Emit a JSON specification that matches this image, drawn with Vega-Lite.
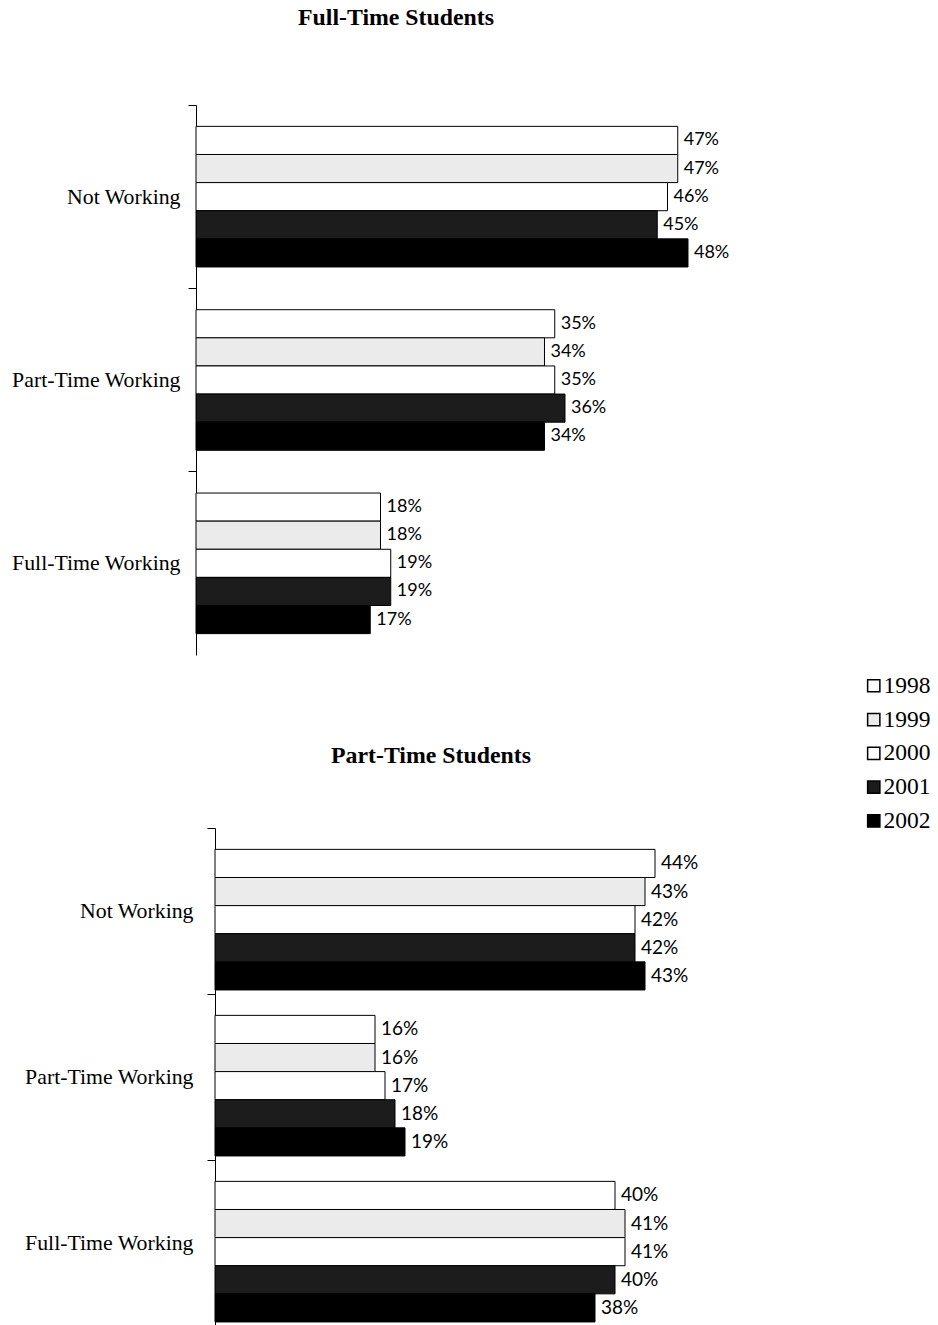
{
  "$schema": "https://vega.github.io/schema/vega-lite/v6.json",
  "background": "white",
  "padding": {"left": 11, "top": 5, "right": 5, "bottom": 0},
  "config": {
    "view": {"stroke": null},
    "font": "Liberation Serif",
    "axis": {"domainColor": "black", "tickColor": "black", "labelColor": "black"}
  },
  "datasets": {
    "fulltime": [
      {"status": "Not Working", "year": "1998", "pct": 0.47},
      {"status": "Not Working", "year": "1999", "pct": 0.47},
      {"status": "Not Working", "year": "2000", "pct": 0.46},
      {"status": "Not Working", "year": "2001", "pct": 0.45},
      {"status": "Not Working", "year": "2002", "pct": 0.48},
      {"status": "Part-Time Working", "year": "1998", "pct": 0.35},
      {"status": "Part-Time Working", "year": "1999", "pct": 0.34},
      {"status": "Part-Time Working", "year": "2000", "pct": 0.35},
      {"status": "Part-Time Working", "year": "2001", "pct": 0.36},
      {"status": "Part-Time Working", "year": "2002", "pct": 0.34},
      {"status": "Full-Time Working", "year": "1998", "pct": 0.18},
      {"status": "Full-Time Working", "year": "1999", "pct": 0.18},
      {"status": "Full-Time Working", "year": "2000", "pct": 0.19},
      {"status": "Full-Time Working", "year": "2001", "pct": 0.19},
      {"status": "Full-Time Working", "year": "2002", "pct": 0.17}
    ],
    "parttime": [
      {"status": "Not Working", "year": "1998", "pct": 0.44},
      {"status": "Not Working", "year": "1999", "pct": 0.43},
      {"status": "Not Working", "year": "2000", "pct": 0.42},
      {"status": "Not Working", "year": "2001", "pct": 0.42},
      {"status": "Not Working", "year": "2002", "pct": 0.43},
      {"status": "Part-Time Working", "year": "1998", "pct": 0.16},
      {"status": "Part-Time Working", "year": "1999", "pct": 0.16},
      {"status": "Part-Time Working", "year": "2000", "pct": 0.17},
      {"status": "Part-Time Working", "year": "2001", "pct": 0.18},
      {"status": "Part-Time Working", "year": "2002", "pct": 0.19},
      {"status": "Full-Time Working", "year": "1998", "pct": 0.40},
      {"status": "Full-Time Working", "year": "1999", "pct": 0.41},
      {"status": "Full-Time Working", "year": "2000", "pct": 0.41},
      {"status": "Full-Time Working", "year": "2001", "pct": 0.40},
      {"status": "Full-Time Working", "year": "2002", "pct": 0.38}
    ]
  },
  "spacing": 88,
  "vconcat": [
    {
      "title": {"text": "Full-Time Students", "font": "Liberation Serif", "fontSize": 23.8, "fontWeight": "bold", "color": "black", "anchor": "middle", "frame": "group", "dx": -116, "offset": 75},
      "width": 632,
      "height": 550,
      "data": {"name": "fulltime"},
      "encoding": {
        "y": {
          "field": "status", "type": "nominal",
          "sort": ["Not Working", "Part-Time Working", "Full-Time Working"],
          "scale": {"paddingInner": 0, "paddingOuter": 0},
          "axis": {"title": null, "bandPosition": 0, "tickSize": 8, "labelPadding": 8, "labelFontSize": 21.8, "labelFont": "Liberation Serif", "domainWidth": 1, "tickWidth": 1}
        },
        "yOffset": {"field": "year", "type": "nominal", "scale": {"paddingInner": 0, "paddingOuter": 0.76}},
        "x": {"field": "pct", "type": "quantitative", "scale": {"domain": [0, 0.6166]}, "axis": null}
      },
      "layer": [
        {
          "mark": {"type": "bar", "stroke": "black", "strokeWidth": 1},
          "encoding": {
            "color": {
              "field": "year", "type": "nominal",
              "scale": {"domain": ["1998", "1999", "2000", "2001", "2002"], "range": ["#ffffff", "#ebebeb", "#ffffff", "#1c1c1c", "#000000"]},
              "legend": {"title": null, "orient": "none", "legendX": 666, "legendY": 569, "symbolType": "square", "symbolSize": 150, "symbolStrokeColor": "black", "symbolStrokeWidth": 1.5, "symbolOpacity": 1, "labelFont": "Liberation Serif", "labelFontSize": 23.5, "labelColor": "black", "labelOffset": -2, "rowPadding": 8.8}
            }
          }
        },
        {
          "mark": {"type": "text", "align": "left", "baseline": "middle", "dx": 6, "font": "Lato", "fontSize": 18, "color": "black"},
          "encoding": {"text": {"field": "pct", "type": "quantitative", "format": ".0%"}}
        }
      ]
    },
    {
      "title": {"text": "Part-Time Students", "font": "Liberation Serif", "fontSize": 23.8, "fontWeight": "bold", "color": "black", "anchor": "middle", "frame": "group", "dx": -65, "offset": 60},
      "width": 600,
      "height": 498,
      "data": {"name": "parttime"},
      "encoding": {
        "y": {
          "field": "status", "type": "nominal",
          "sort": ["Not Working", "Part-Time Working", "Full-Time Working"],
          "scale": {"paddingInner": 0, "paddingOuter": 0},
          "axis": {"title": null, "bandPosition": 0, "offset": -19, "tickSize": 8, "labelPadding": 14, "labelFontSize": 21.8, "labelFont": "Liberation Serif", "domainWidth": 1, "tickWidth": 1}
        },
        "yOffset": {"field": "year", "type": "nominal", "scale": {"paddingInner": 0, "paddingOuter": 0.76}},
        "x": {"field": "pct", "type": "quantitative", "scale": {"domain": [-0.019, 0.581], "zero": false}, "axis": null}
      },
      "layer": [
        {
          "mark": {"type": "bar", "stroke": "black", "strokeWidth": 1},
          "encoding": {"color": {"field": "year", "type": "nominal"}}
        },
        {
          "mark": {"type": "text", "align": "left", "baseline": "middle", "dx": 6, "font": "Lato", "fontSize": 19, "color": "black"},
          "encoding": {"text": {"field": "pct", "type": "quantitative", "format": ".0%"}}
        }
      ]
    }
  ]
}
